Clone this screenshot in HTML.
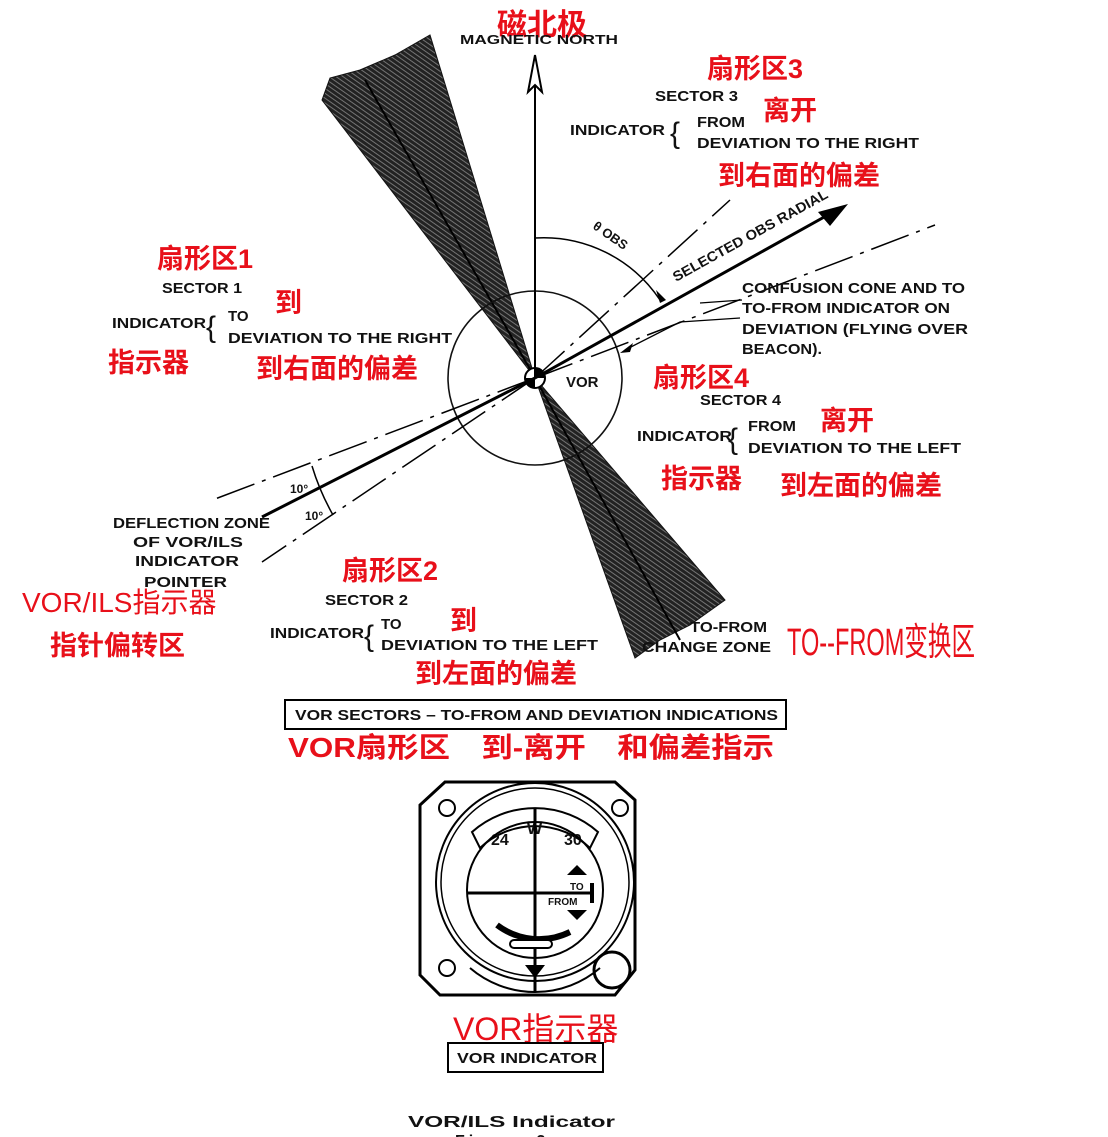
<!DOCTYPE html>
<html><head><meta charset="utf-8"><style>
html,body{margin:0;padding:0;background:#fff;}
svg{display:block;}
.b{font-family:"Liberation Sans",sans-serif;font-weight:bold;font-size:15px;fill:#111;}
.r{font-family:"Liberation Sans","Noto Sans CJK SC",sans-serif;fill:#e8101a;font-size:27px;font-weight:bold;}
</style></head><body>
<svg width="1108" height="1137" viewBox="0 0 1108 1137" xmlns="http://www.w3.org/2000/svg">
<defs>
<pattern id="h" width="4" height="4" patternUnits="userSpaceOnUse" patternTransform="rotate(35)">
<rect width="4" height="4" fill="#222"/><line x1="0" y1="2" x2="4" y2="2" stroke="#888" stroke-width="0.8"/>
</pattern>
</defs>
<polygon points="535,378 322,100 330,78 360,70 395,55 430,35" fill="url(#h)" stroke="#111"/>
<polygon points="535,378 635,658 660,640 690,625 725,600" fill="url(#h)" stroke="#111"/>
<line x1="535" y1="378" x2="365" y2="80" stroke="#000" stroke-width="2"/>
<line x1="535" y1="378" x2="680" y2="640" stroke="#000" stroke-width="2"/>
<circle cx="535" cy="378" r="87" fill="none" stroke="#111" stroke-width="1.6"/>
<circle cx="535" cy="378" r="10" fill="#fff" stroke="#000" stroke-width="2"/>
<path d="M535 368 A10 10 0 0 1 545 378 L535 378Z M535 388 A10 10 0 0 1 525 378 L535 378Z" fill="#000"/>
<line x1="535" y1="378" x2="535" y2="60" stroke="#000" stroke-width="2"/>
<polygon points="535,55 528,92 535,85 542,92" fill="#fff" stroke="#000" stroke-width="2"/>
<line x1="535" y1="378" x2="835" y2="211" stroke="#000" stroke-width="3"/>
<polygon points="848,204 818,212 830,226" fill="#000"/>
<line x1="535" y1="378" x2="262" y2="517" stroke="#000" stroke-width="3"/>
<g stroke="#000" stroke-width="1.5" stroke-dasharray="40,8,4,8" fill="none">
<line x1="535" y1="378" x2="730" y2="200"/>
<line x1="535" y1="378" x2="935" y2="225"/>
<line x1="535" y1="378" x2="215" y2="499"/>
<line x1="535" y1="378" x2="262" y2="562"/>
</g>
<polyline points="740,318 680,322 625,350" fill="none" stroke="#000" stroke-width="1.3"/>
<polygon points="620,353 633,343 630,352" fill="#000"/>
<polyline points="742,300 700,303" fill="none" stroke="#000" stroke-width="1.3"/>
<path d="M535 238 A140 140 0 0 1 660 300" fill="none" stroke="#000" stroke-width="1.5"/>
<polygon points="666,300 656,290 660,303" fill="#000"/>
<path d="M312 466 A240 240 0 0 0 333 515" fill="none" stroke="#000" stroke-width="1.5"/>
<g lengthAdjust="spacingAndGlyphs">
<text class="r" x="497" y="35" style="font-size:30px">磁北极</text>
<text class="b" x="460" y="44" style="font-size:13px" textLength="158" lengthAdjust="spacingAndGlyphs">MAGNETIC NORTH</text>
<text class="r" x="707" y="78">扇形区3</text>
<text class="b" x="655" y="101" textLength="83" lengthAdjust="spacingAndGlyphs">SECTOR 3</text>
<text class="r" x="763" y="120">离开</text>
<text class="b" x="570" y="135" textLength="95" lengthAdjust="spacingAndGlyphs">INDICATOR</text>
<text class="b" x="670" y="143" style="font-size:30px;font-weight:normal">{</text>
<text class="b" x="697" y="127" textLength="48" lengthAdjust="spacingAndGlyphs">FROM</text>
<text class="b" x="697" y="148" textLength="222" lengthAdjust="spacingAndGlyphs">DEVIATION TO THE RIGHT</text>
<text class="r" x="718" y="185">到右面的偏差</text>
<text class="b" x="592" y="228" transform="rotate(35 592 228)" style="font-size:13px">θ  OBS</text>
<text class="b" x="676" y="282" transform="rotate(-29 676 282)" style="font-size:14px" textLength="175" lengthAdjust="spacingAndGlyphs">SELECTED OBS RADIAL</text>
<text class="r" x="157" y="268">扇形区1</text>
<text class="b" x="162" y="293" textLength="80" lengthAdjust="spacingAndGlyphs">SECTOR 1</text>
<text class="r" x="275" y="312">到</text>
<text class="b" x="112" y="328" textLength="94" lengthAdjust="spacingAndGlyphs">INDICATOR</text>
<text class="b" x="206" y="337" style="font-size:30px;font-weight:normal">{</text>
<text class="b" x="228" y="321">TO</text>
<text class="b" x="228" y="343" textLength="224" lengthAdjust="spacingAndGlyphs">DEVIATION TO THE RIGHT</text>
<text class="r" x="108" y="372">指示器</text>
<text class="r" x="256" y="378">到右面的偏差</text>
<text class="b" x="742" y="293" textLength="223" lengthAdjust="spacingAndGlyphs">CONFUSION CONE AND TO</text>
<text class="b" x="742" y="313" textLength="208" lengthAdjust="spacingAndGlyphs">TO-FROM INDICATOR ON</text>
<text class="b" x="742" y="334" textLength="226" lengthAdjust="spacingAndGlyphs">DEVIATION (FLYING OVER</text>
<text class="b" x="742" y="354" textLength="80" lengthAdjust="spacingAndGlyphs">BEACON).</text>
<text class="b" x="566" y="387">VOR</text>
<text class="r" x="653" y="387">扇形区4</text>
<text class="b" x="700" y="405" textLength="81" lengthAdjust="spacingAndGlyphs">SECTOR 4</text>
<text class="r" x="820" y="430">离开</text>
<text class="b" x="637" y="441" textLength="95" lengthAdjust="spacingAndGlyphs">INDICATOR</text>
<text class="b" x="728" y="449" style="font-size:30px;font-weight:normal">{</text>
<text class="b" x="748" y="431" textLength="48" lengthAdjust="spacingAndGlyphs">FROM</text>
<text class="b" x="748" y="453" textLength="213" lengthAdjust="spacingAndGlyphs">DEVIATION TO THE LEFT</text>
<text class="r" x="661" y="488">指示器</text>
<text class="r" x="780" y="495">到左面的偏差</text>
<text class="b" x="290" y="493" style="font-size:12px">10°</text>
<text class="b" x="305" y="520" style="font-size:12px">10°</text>
<text class="b" x="113" y="528" textLength="157" lengthAdjust="spacingAndGlyphs">DEFLECTION ZONE</text>
<text class="b" x="133" y="547" textLength="110" lengthAdjust="spacingAndGlyphs">OF VOR/ILS</text>
<text class="b" x="135" y="566" textLength="104" lengthAdjust="spacingAndGlyphs">INDICATOR</text>
<text class="b" x="144" y="587" textLength="83" lengthAdjust="spacingAndGlyphs">POINTER</text>
<text class="r" x="342" y="580">扇形区2</text>
<text class="r" x="22" y="612" style="font-size:28px;font-weight:normal">VOR/ILS指示器</text>
<text class="r" x="50" y="655">指针偏转区</text>
<text class="b" x="325" y="605" textLength="83" lengthAdjust="spacingAndGlyphs">SECTOR 2</text>
<text class="r" x="450" y="630">到</text>
<text class="b" x="270" y="638" textLength="94" lengthAdjust="spacingAndGlyphs">INDICATOR</text>
<text class="b" x="364" y="646" style="font-size:30px;font-weight:normal">{</text>
<text class="b" x="381" y="629">TO</text>
<text class="b" x="381" y="650" textLength="217" lengthAdjust="spacingAndGlyphs">DEVIATION TO THE LEFT</text>
<text class="r" x="415" y="683">到左面的偏差</text>
<text class="b" x="690" y="632" textLength="77" lengthAdjust="spacingAndGlyphs">TO-FROM</text>
<text class="b" x="642" y="652" textLength="129" lengthAdjust="spacingAndGlyphs">CHANGE  ZONE</text>
<text class="r" x="787" y="655" style="font-size:38px;font-weight:normal" textLength="188" lengthAdjust="spacingAndGlyphs">TO--FROM变换区</text>
<rect x="285" y="700" width="501" height="29" fill="none" stroke="#000" stroke-width="2"/>
<text class="b" x="295" y="720" textLength="483" lengthAdjust="spacingAndGlyphs">VOR SECTORS  – TO-FROM AND DEVIATION INDICATIONS</text>
<text class="r" x="288" y="757" style="font-size:28px" textLength="486" lengthAdjust="spacingAndGlyphs">VOR扇形区　到-离开　和偏差指示</text>
</g>
<!-- instrument -->
<polygon points="445,782 615,782 635,800 635,970 615,995 440,995 420,975 420,805" fill="none" stroke="#000" stroke-width="3"/>
<circle cx="535" cy="882" r="99" fill="none" stroke="#000" stroke-width="2"/>
<circle cx="535" cy="882" r="94" fill="none" stroke="#000" stroke-width="1.5"/>
<circle cx="447" cy="808" r="8" fill="none" stroke="#000" stroke-width="2"/>
<circle cx="620" cy="808" r="8" fill="none" stroke="#000" stroke-width="2"/>
<circle cx="447" cy="968" r="8" fill="none" stroke="#000" stroke-width="2"/>
<circle cx="612" cy="970" r="18" fill="#fff" stroke="#000" stroke-width="3"/>
<path d="M472 832 A95 95 0 0 1 598 832 L590 848 A80 80 0 0 0 480 848Z" fill="#fff" stroke="#000" stroke-width="2"/>
<text class="b" x="491" y="845" style="font-size:16px">24</text>
<text class="b" x="527" y="834" style="font-size:16px">W</text>
<text class="b" x="564" y="845" style="font-size:16px">30</text>
<circle cx="535" cy="890" r="68" fill="none" stroke="#000" stroke-width="2"/>
<line x1="535" y1="808" x2="535" y2="992" stroke="#000" stroke-width="3"/>
<line x1="467" y1="893" x2="590" y2="893" stroke="#000" stroke-width="3"/>
<path d="M497 925 A70 70 0 0 0 570 932" fill="none" stroke="#000" stroke-width="6"/>
<polygon points="577,865 567,875 587,875" fill="#000"/>
<polygon points="577,920 567,910 587,910" fill="#000"/>
<text class="b" x="570" y="890" style="font-size:10px">TO</text>
<text class="b" x="548" y="905" style="font-size:10px">FROM</text>
<rect x="590" y="883" width="4" height="20" fill="#000"/>
<rect x="510" y="940" width="42" height="8" rx="4" fill="#fff" stroke="#000" stroke-width="2"/>
<polygon points="525,965 545,965 535,978" fill="#000"/>
<path d="M470 968 A100 100 0 0 0 600 968" fill="none" stroke="#000" stroke-width="2"/>
<text class="r" x="453" y="1040" style="font-size:32px;font-weight:normal">VOR指示器</text>
<rect x="448" y="1043" width="155" height="29" fill="none" stroke="#000" stroke-width="2"/>
<text class="b" x="457" y="1063" textLength="140" lengthAdjust="spacingAndGlyphs">VOR INDICATOR</text>
<text class="b" x="408" y="1127" style="font-size:16px" textLength="207" lengthAdjust="spacingAndGlyphs">VOR/ILS Indicator</text>
<text class="b" x="455" y="1146" style="font-size:16px;letter-spacing:4px">Figure 2</text>
</svg>
</body></html>
